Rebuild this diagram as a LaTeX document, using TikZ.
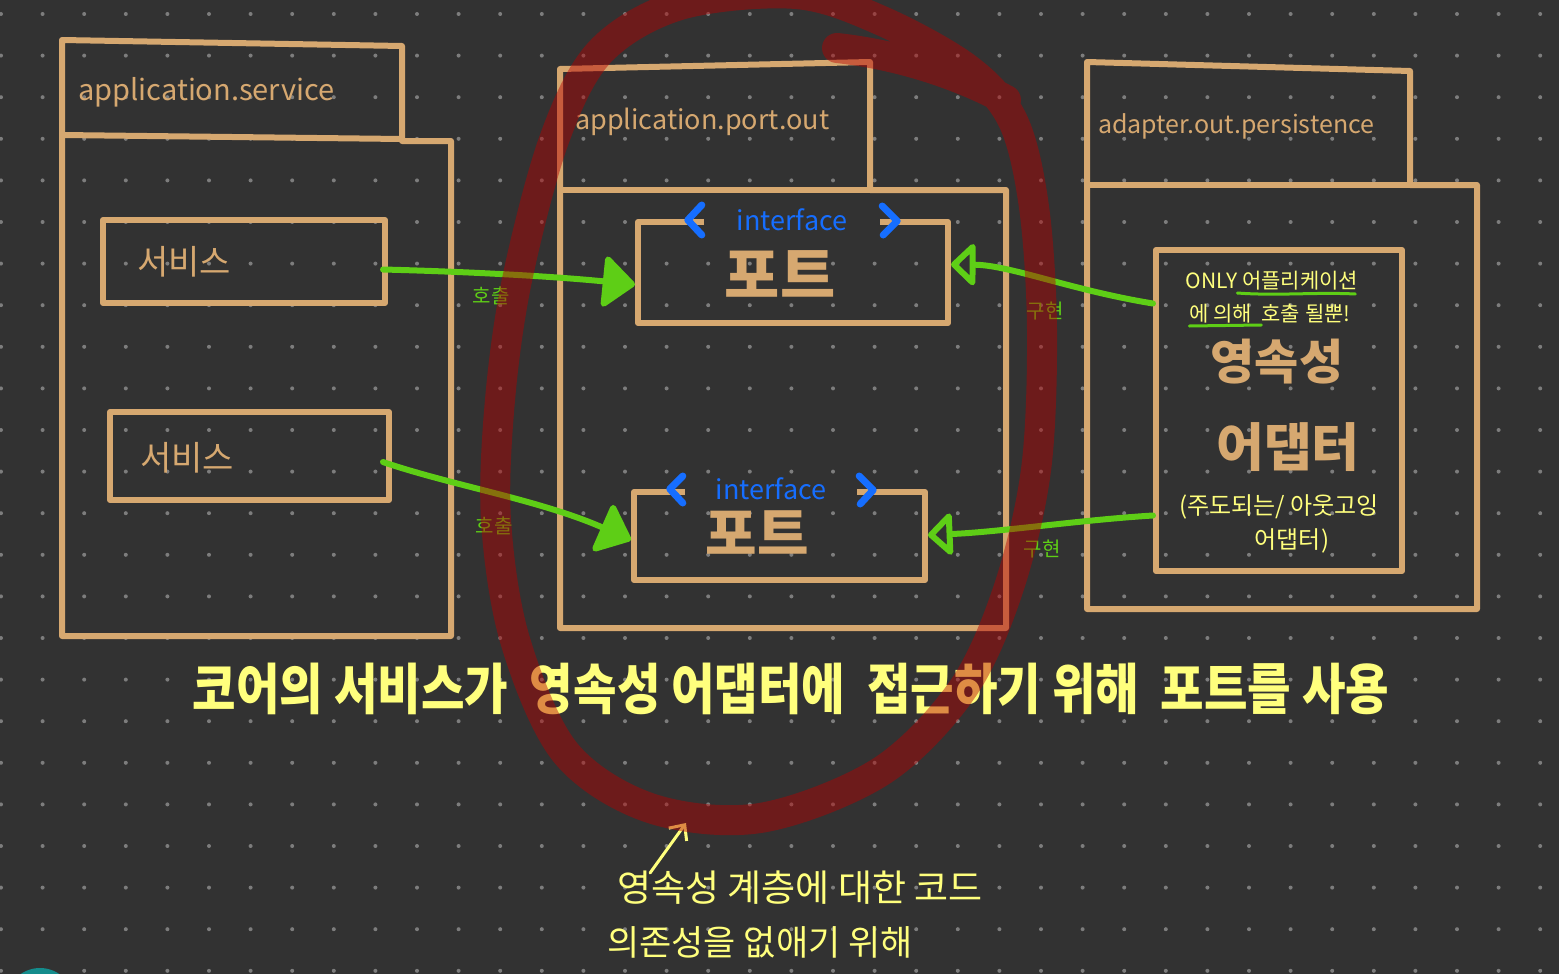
\documentclass[tikz,border=0pt]{standalone}
\usepackage{fontspec}
\newfontfamily\kr{Noto Sans CJK KR}
\usetikzlibrary{arrows.meta}
\definecolor{bg}{RGB}{50,50,50}
\definecolor{tanc}{RGB}{214,168,112}
\definecolor{grn}{RGB}{94,206,22}
\definecolor{blu}{RGB}{22,110,255}
\definecolor{yel}{RGB}{255,255,125}
\definecolor{dotc}{RGB}{125,125,125}
\definecolor{redc}{RGB}{182,0,0}
\definecolor{tealc}{RGB}{20,140,140}
\begin{document}
\begin{tikzpicture}[x=1pt,y=-1pt,
  pkg/.style={draw=tanc,line width=6pt,line join=round,line cap=round},
  box/.style={draw=tanc,line width=6pt,rectangle,inner sep=0pt,line join=round},
  ttl/.style={text=tanc,font=\kr,anchor=west,inner sep=0pt},
  big/.style={text=tanc,font=\kr\bfseries,inner sep=0pt},
  iface/.style={fill=bg,text=blu,font=\kr,inner sep=0pt,minimum height=30pt},
  chev/.style={draw=blu,line width=7pt,line cap=round,line join=round},
  glab/.style={text=grn,font=\kr\fontsize{20}{20}\selectfont,inner sep=0pt},
  ylab/.style={text=yel,font=\kr,inner sep=0pt},
  call/.style={draw=grn,line width=6pt,line cap=round,-{Triangle[length=34pt,width=56pt,round]}},
  impl/.style={draw=grn,line width=6pt,line cap=round,-{Triangle[open,length=26pt,width=48pt,round]}},
  uline/.style={draw=grn,line width=3pt,line cap=round},
  redmark/.style={draw=redc,draw opacity=0.45,line width=30pt,line cap=round,line join=round}]
\fill[bg] (0,0) rectangle (1559,974);
\useasboundingbox (0,0) rectangle (1559,974);
\foreach \i in {0,...,37}{\foreach \j in {0,...,23}{\fill[dotc] (1+41.6*\i,14+41.6*\j) circle (2);}}
\fill[tealc] (40,1002) circle (34);
% packages
\draw[pkg] (62,40) -- (402,46) -- (402,141) -- (451,141) -- (451,636) -- (62,636) -- cycle;
\draw[pkg] (62,135) -- (402,139);
\draw[pkg] (560,69) -- (870,62) -- (870,190) -- (1006,190) -- (1006,628) -- (560,628) -- cycle;
\draw[pkg] (560,190) -- (870,190);
\draw[pkg] (1087,62) -- (1410,71) -- (1410,185) -- (1477,185) -- (1477,609) -- (1087,609) -- cycle;
\draw[pkg] (1087,185) -- (1410,185);
\node[ttl,font=\kr\fontsize{29}{29}\selectfont] (t1) at (78,92) {application.service};
\node[ttl,font=\kr\fontsize{27}{27}\selectfont] (t2) at (575,122) {application.port.out};
\node[ttl,font=\kr\fontsize{25}{25}\selectfont] (t3) at (1098,126) {adapter.out.persistence};
% inner boxes
\node[box,minimum width=282pt,minimum height=83pt] (s1) at (244,261.5) {};
\node[box,minimum width=279pt,minimum height=88pt] (s2) at (249.5,456) {};
\node[box,minimum width=310pt,minimum height=101pt] (p1) at (793,272.5) {};
\node[box,minimum width=291pt,minimum height=88pt] (p2) at (779.5,536) {};
\node[box,minimum width=246pt,minimum height=321pt] (ad) at (1279,410.5) {};
\node[ttl,font=\kr\fontsize{34}{34}\selectfont] (sv1) at (137,262) {서비스};
\node[ttl,font=\kr\fontsize{34}{34}\selectfont] (sv2) at (140,458) {서비스};
% interface labels
\node[iface,minimum width=176pt,font=\kr\fontsize{27}{27}\selectfont] (i1) at (792,220) {interface};
\draw[chev] ([xshift=-2pt,yshift=15pt]i1.west) -- ([xshift=-16pt,yshift=0pt]i1.west) -- ([xshift=-2pt,yshift=-15pt]i1.west);
\draw[chev] ([xshift=2pt,yshift=14pt]i1.east) -- ([xshift=17pt,yshift=-1pt]i1.east) -- ([xshift=3pt,yshift=-15pt]i1.east);
\node[iface,minimum width=172pt,font=\kr\fontsize{27}{27}\selectfont] (i2) at (771,489) {interface};
\draw[chev] ([xshift=-2pt,yshift=13pt]i2.west) -- ([xshift=-15pt,yshift=0pt]i2.west) -- ([xshift=-2pt,yshift=-14pt]i2.west);
\draw[chev] ([xshift=2pt,yshift=13pt]i2.east) -- ([xshift=16pt,yshift=-1pt]i2.east) -- ([xshift=3pt,yshift=-15pt]i2.east);
\node[big,font=\kr\bfseries\fontsize{60}{60}\selectfont] (pt1) at (780,274) {포트};
\node[big,font=\kr\bfseries\fontsize{56}{56}\selectfont] (pt2) at (757,533) {포트};
% adapter texts
\node[ylab,font=\kr\fontsize{21}{21}\selectfont] (a1) at (1272,281) {ONLY 어플리케이션};
\node[ylab,font=\kr\fontsize{21}{21}\selectfont] (a2) at (1270,314) {에 의해\ \ 호출 될뿐!};
\draw[uline] ([xshift=-3pt,yshift=-12pt]a1.east) ++(-118,0) .. controls +(40,3) and +(-40,-2) .. ([xshift=-3pt,yshift=-13pt]a1.east);
\draw[uline] ([xshift=0pt,yshift=-12pt]a2.west) -- ++(72,-1);
\node[big,font=\kr\bfseries\fontsize{48}{48}\selectfont] (a3) at (1277,362) {영속성};
\node[big,font=\kr\bfseries\fontsize{52}{52}\selectfont] (a4) at (1288,447) {어댑터};
\node[ylab,font=\kr\fontsize{24}{24}\selectfont] (a5) at (1279,507) {(주도되는/ 아웃고잉};
\node[ylab,font=\kr\fontsize{24}{24}\selectfont] (a6) at (1292,541) {어댑터)};
% connectors
\draw[call] ([xshift=-5pt,yshift=-8pt]s1.east) .. controls (480,272) and (560,277) .. ([yshift=-12pt]p1.west);
\draw[call] ([xshift=-9pt,yshift=-6pt]s2.east) .. controls (450,485) and (540,500) .. ([yshift=-4pt]p2.west);
\draw[impl] ([yshift=107pt]ad.west) .. controls (1070,290) and (1010,265) .. ([yshift=8pt]p1.east);
\draw[impl] ([yshift=-105pt]ad.west) .. controls (1080,520) and (1000,532) .. ([yshift=1pt]p2.east);
\node[glab] (h1) at (491,296) {호출};
\node[glab] (h2) at (494,526) {호출};
\node[glab] (g1) at (1045,311) {구현};
\node[glab] (g2) at (1042,549) {구현};
% caption
\node[text=yel,font=\kr\bfseries\fontsize{55}{55}\selectfont,inner sep=0pt] (cap) at (791,689) {\scalebox{0.86}[1]{코어의 서비스가\ \ 영속성 어댑터에\ \ 접근하기 위해\ \ 포트를 사용}};
% note
\node[ylab,anchor=west,font=\kr\fontsize{37}{37}\selectfont] (n1) at (617,888) {영속성 계층에 대한 코드};
\node[ylab,anchor=west,font=\kr\fontsize{35}{35}\selectfont] (n2) at (607,942) {의존성을 없애기 위해};
\coordinate (tip) at (686,823);
\draw[draw=yel,line width=3pt,line cap=round,line join=round,-{Straight Barb[length=12pt,width=22pt]}] ([xshift=33pt,yshift=-2pt]n1.north west) -- (tip);
% red circle
\draw[redmark] plot[smooth cycle,tension=0.55] coordinates {(1034,207) (1042,330) (1036,470) (1008,590) (962,690) (880,772) (760,818) (650,808) (565,752) (515,640) (496,520) (500,400) (517,280) (554,140) (600,52) (680,5) (796,-6) (882,21) (968,69) (1013,121)}
  (837,48) .. controls (900,55) and (960,75) .. (1006,100);
\end{tikzpicture}
\end{document}
